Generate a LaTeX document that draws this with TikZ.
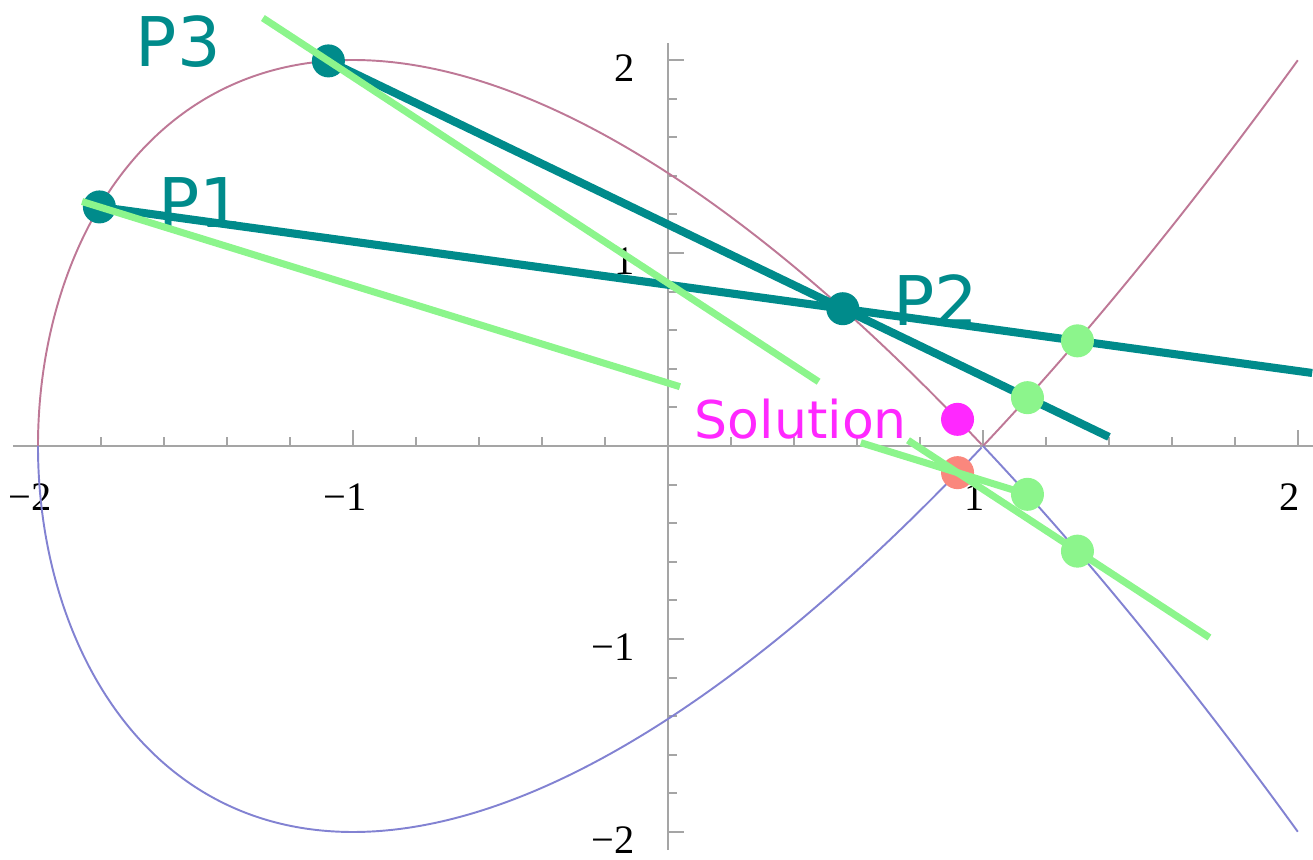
\documentclass[tikz,border=0pt]{standalone}
\usepackage{fontspec}
\setmainfont{Liberation Serif}
\newfontfamily\labelfont{DejaVu Sans}
\usepackage{tikz}
\usetikzlibrary{calc, positioning}
\definecolor{pointteal}{RGB}{0,139,139}
\definecolor{chordgreen}{RGB}{140,245,140}
\definecolor{solmagenta}{RGB}{255,40,255}
\definecolor{solsalmon}{RGB}{250,135,125}
\definecolor{curvered}{RGB}{190,120,150}
\definecolor{curveblue}{RGB}{130,130,210}
\definecolor{axisgray}{RGB}{165,165,165}

\begin{document}
\begin{tikzpicture}[
        x = 3.15cm, y = 1.93cm,
        axis/.style = {draw=axisgray, line width=0.8pt},
        tickmark/.style = {draw=axisgray, line width=0.6pt},
        ticklabel/.style = {font=\fontsize{11.5}{13}\selectfont, inner sep=0pt},
        branch/.style = {line width=0.55pt},
        chord/.style = {draw=pointteal, line width=2.3pt},
        sumline/.style = {draw=chordgreen, line width=2pt},
        dot/.style = {circle, inner sep=0pt, minimum size=0.33cm},
        ptlabel/.style = {font=\labelfont\fontsize{19.5}{22}\selectfont, text=pointteal, inner sep=0pt},
        sollabel/.style = {font=\labelfont\fontsize{14.8}{17}\selectfont, text=solmagenta, inner sep=0pt}
    ]
        \useasboundingbox (-6.68cm,-4.14cm) rectangle (6.45cm,4.46cm);

        % Axes
        \draw[axis] (-6.55cm,0) -- (6.45cm,0);
        \draw[axis] (0,-4.04cm) -- (0,4.03cm);
        \foreach \i in {-10,...,10} {
            \draw[tickmark] ({\i/5},0) -- ++(0,0.09cm);
            \draw[tickmark] (0,{\i/5}) -- ++(0.09cm,0);
        }
        \foreach \v in {-2,-1,1,2} {
            \draw[tickmark] (\v,0) -- ++(0,0.16cm);
            \draw[tickmark] (0,\v) -- ++(0.16cm,0);
        }
        \foreach \v/\t/\n in {-2/−2/a, -1/−1/b, 1/1/c, 2/2/d} {
            \node[ticklabel, xshift=-0.08cm, yshift=-0.51cm] (xl\n) at (\v,0) {\t};
            \node[ticklabel, anchor=east, xshift=-0.33cm, yshift=-0.08cm] (yl\n) at (0,\v) {\t};
        }

        % Curve y^2 = x^3 - 3x + 2
        \draw[branch, curvered] plot[domain=0:1.7320508, samples=200] ({\x*\x-2},{(3-\x*\x)*\x})
            plot[domain=1.7320508:2, samples=40] ({\x*\x-2},{(\x*\x-3)*\x});
        \draw[branch, curveblue] plot[domain=0:1.7320508, samples=200] ({\x*\x-2},{-(3-\x*\x)*\x})
            plot[domain=1.7320508:2, samples=40] ({\x*\x-2},{-(\x*\x-3)*\x});

        % Points
        \coordinate (P1) at (-1.805,1.2387);
        \coordinate (P2) at (0.555,0.7113);
        \coordinate (P3) at (-1.078,1.9953);
        \coordinate (Q) at (1.2999,0.5448);
        \coordinate (Qm) at (1.2999,-0.5448);
        \coordinate (R) at (1.1412,0.2504);
        \coordinate (Rm) at (1.1412,-0.2504);
        \coordinate (S) at (0.9192,0.1381);
        \coordinate (Sm) at (0.9192,-0.1381);

        % Labels
        \node[ptlabel, right=0.58cm of P1, yshift=0.04cm] (lblP1) {P1};
        \node[ptlabel, right=0.5cm of P2, yshift=0.09cm] (lblP2) {P2};
        \node[ptlabel, left=1.07cm of P3, yshift=0.19cm] (lblP3) {P3};
        \node[sollabel, left=0.5cm of S] (lblS) {Solution};

        % Chords through P2
        \coordinate (T1) at ($(P1)!1.6314!(P2)$);
        \coordinate (T3) at ($(P3)!1.5174!(P2)$);
        \draw[chord] (P1) -- (T1);
        \draw[chord] (P3) -- (T3);

        \node[dot, fill=pointteal] (dP1) at (P1) {};
        \node[dot, fill=pointteal] (dP2) at (P2) {};
        \node[dot, fill=pointteal] (dP3) at (P3) {};
        \node[dot, fill=solmagenta] (dS) at (S) {};
        \node[dot, fill=solsalmon] (dSm) at (Sm) {};

        % Lines to the reflected points
        \coordinate (G1a) at ($(P1)!-0.0187!(Rm)$);
        \coordinate (G1b) at ($(P1)!0.6255!(Rm)$);
        \coordinate (G1c) at ($(P1)!0.8204!(Rm)$);
        \coordinate (G3a) at ($(P3)!-0.0875!(Qm)$);
        \coordinate (G3b) at ($(P3)!0.6544!(Qm)$);
        \coordinate (G3c) at ($(P3)!0.7738!(Qm)$);
        \coordinate (G3d) at ($(P3)!1.1762!(Qm)$);
        \draw[sumline] (G1a) -- (G1b);
        \draw[sumline] (G1c) -- (Rm);
        \draw[sumline] (G3a) -- (G3b);
        \draw[sumline] (G3c) -- (G3d);

        \node[dot, fill=chordgreen] (dQ) at (Q) {};
        \node[dot, fill=chordgreen] (dQm) at (Qm) {};
        \node[dot, fill=chordgreen] (dR) at (R) {};
        \node[dot, fill=chordgreen] (dRm) at (Rm) {};

    \end{tikzpicture}
\end{document}
